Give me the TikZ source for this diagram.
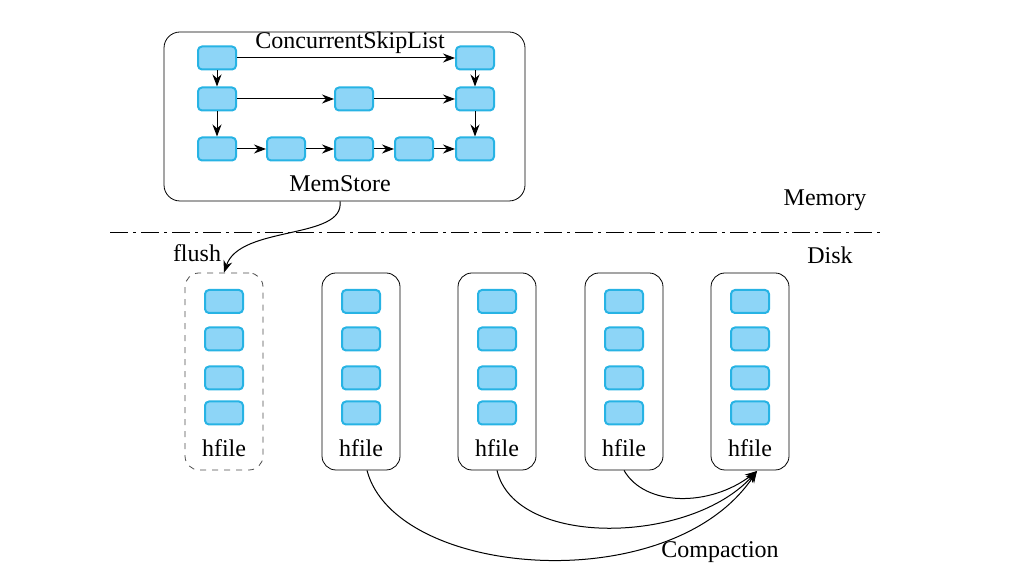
\documentclass[tikz,border=0pt]{standalone}
\usepackage{fontspec}
\setmainfont{Liberation Serif}
\usetikzlibrary{arrows.meta,positioning}
\definecolor{cellfill}{HTML}{8DD5F7}
\definecolor{celldraw}{HTML}{27B3E4}
\tikzset{
    cell/.style={draw=celldraw, fill=cellfill, line width=1pt, rounded corners=2pt,
                 minimum width=19pt, minimum height=11.5pt, inner sep=0pt},
    filebox/.style={draw, rounded corners=7pt, minimum width=39pt, minimum height=98.5pt, inner sep=0pt},
    newfile/.style={dashed, draw=black!70},
    oldfile/.style={solid},
    link/.style={-{Stealth[length=6pt,width=4.5pt]}, line width=0.5pt},
    lbl/.style={font=\fontsize{12pt}{14pt}\selectfont, inner sep=0pt}
}
\begin{document}
\begin{tikzpicture}[x=0.5pt, y=-0.5pt]
    \useasboundingbox (0,0) rectangle (1017,581);

    % memstore
    \node [draw, rounded corners=8pt, minimum width=180.5pt, minimum height=84.5pt] (mem) at (344.5,116.5) {};
    \node [lbl] (skip)   at (350,43)  {ConcurrentSkipList};
    \node [lbl] (memlbl) at (340,184) {MemStore};

    \node [cell] (a1) at (217,58)  {};
    \node [cell] (a5) at (475,58)  {};
    \node [cell] (b1) at (217,99)  {};
    \node [cell] (b3) at (354,99)  {};
    \node [cell] (b5) at (475,99)  {};
    \node [cell] (c1) at (217,149) {};
    \node [cell] (c2) at (286,149) {};
    \node [cell] (c3) at (354,149) {};
    \node [cell] (c4) at (414,149) {};
    \node [cell] (c5) at (475,149) {};

    \draw [link] (a1) -- (a5);
    \draw [link] (b1) -- (b3);
    \draw [link] (b3) -- (b5);
    \draw [link] (c1) -- (c2);
    \draw [link] (c2) -- (c3);
    \draw [link] (c3) -- (c4);
    \draw [link] (c4) -- (c5);
    \draw [link] (a1) -- (b1);
    \draw [link] (b1) -- (c1);
    \draw [link] (a5) -- (b5);
    \draw [link] (b5) -- (c5);

    % memory / disk
    \coordinate (sepL) at (110,233);
    \coordinate (sepR) at (880,233);
    \draw [dash pattern=on 9pt off 2.5pt on 1.5pt off 2.5pt, line width=0.5pt] (sepL) -- (sepR);
    \node [lbl] (memory) at (825,200) {Memory};
    \node [lbl] (disk)   at (830,255) {Disk};

    % hfiles
    \foreach \name/\x/\sty in {hf1/224/newfile, hf2/361/oldfile, hf3/497/oldfile, hf4/624/oldfile, hf5/750/oldfile} {
        \node [filebox, \sty] (\name) at (\x,371.5) {};
        \foreach \y in {301.5, 339, 378, 413}
            \node [cell] at (\x,\y) {};
        \node [lbl] at (\x,448) {hfile};
    }

    % flush
    \node [lbl] (flush) at (197,253) {flush};
    \draw [link] (mem.south -| memlbl) .. controls (345,240) and (240,225) .. (hf1.north);

    % compaction
    \coordinate (tip) at (757,471);
    \draw [link] ([xshift=3pt]hf2.south) .. controls (395,578) and (670,600) .. (tip);
    \draw [link] (hf3.south) .. controls (515,548) and (690,545) .. (tip);
    \draw [link] (hf4.south) .. controls (645,507) and (710,507) .. (tip);
    \node [lbl] (compaction) at (720,552) {Compaction};
\end{tikzpicture}
\end{document}
